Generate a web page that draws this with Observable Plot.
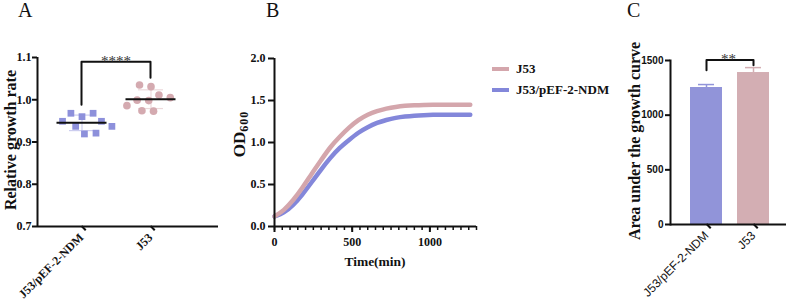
<!DOCTYPE html>
<html><head><meta charset="utf-8">
<script src="https://cdn.jsdelivr.net/npm/d3@7"></script>
<script src="https://cdn.jsdelivr.net/npm/@observablehq/plot@0.6"></script>
<style>
html,body{margin:0;padding:0;background:#fff;}
#root{position:relative;width:787px;height:308px;overflow:hidden;background:#fff;}
#root svg{position:absolute;top:0;}
.lbl{position:absolute;white-space:nowrap;font-family:"Liberation Serif","Times New Roman",serif;font-weight:bold;color:#111;line-height:1;}
.rot{transform:translate(-50%,-50%) rotate(-90deg);}
.hor{transform:translate(-50%,-50%);}
.panel{position:absolute;font-family:"Liberation Serif","Times New Roman",serif;font-size:20px;line-height:20px;color:#111;}
.legend{position:absolute;font-family:"Liberation Serif","Times New Roman",serif;font-weight:bold;font-size:13px;color:#111;}
.legend .row{display:flex;align-items:center;height:21px;}
.legend .sw{display:inline-block;width:17px;height:4px;margin-right:7px;}
</style></head><body><div id="root"></div>
<script>
// ---------- data ----------
const groups = ["J53/pEF-2-NDM", "J53"];
const colors = ["#8d90db", "#d4aab0"];

// Panel A: relative growth rate (individual replicates)
const rateNDM = [0.960, 0.968, 0.968, 0.949, 0.949, 0.937, 0.919, 0.921, 0.937];
const rateJ53 = [1.031, 1.035, 1.011, 0.998, 0.999, 1.005, 0.973, 0.974, 0.986];
const sigA = "****";
const bracketAGroups = ["J53/pEF-2-NDM", "J53/pEF-2-NDM", "J53", "J53"];
const bracketAValues = [0.988, 1.09, 1.09, 1.052];

// Panel B: growth curves (OD600 vs time in min)
const timeMin = [0, 60, 120, 180, 240, 300, 360, 420, 480, 540, 600, 660, 720, 780, 840, 900, 960, 1020, 1080, 1140, 1200, 1260];
const odNDM = [0.12, 0.16, 0.25, 0.38, 0.53, 0.68, 0.82, 0.94, 1.03, 1.12, 1.185, 1.235, 1.27, 1.295, 1.31, 1.32, 1.326, 1.33, 1.33, 1.33, 1.33, 1.33];
const odJ53 = [0.12, 0.19, 0.31, 0.46, 0.63, 0.79, 0.95, 1.07, 1.18, 1.27, 1.335, 1.375, 1.405, 1.425, 1.437, 1.444, 1.448, 1.45, 1.45, 1.45, 1.45, 1.45];
const seriesB = ["J53/pEF-2-NDM", "J53"];
const legendOrder = ["J53", "J53/pEF-2-NDM"];

// Panel C: area under the growth curve (mean, error)
const aucMean = [1253, 1390];
const aucErr = [27, 45];
const sigC = "**";
const bracketCGroups = ["J53/pEF-2-NDM", "J53/pEF-2-NDM", "J53", "J53"];
const bracketCValues = [1411, 1505, 1505, 1457];

// ---------- build ----------
const root = document.getElementById("root");
const serif = "Liberation Serif";

const ratesLong = [
  ...rateNDM.map(v => ({group: groups[0], value: v})),
  ...rateJ53.map(v => ({group: groups[1], value: v}))
];
const statsA = groups.map(g => {
  const v = ratesLong.filter(d => d.group === g).map(d => d.value);
  const m = d3.mean(v), s = d3.deviation(v);
  return {group: g, mean: m, lo: m - s, hi: m + s};
});
const bracketA = bracketAGroups.map((g, i) => ({group: g, y: bracketAValues[i]}));

// Panel A base (axes, bracket)
const xDomainA = [-0.6377, 1.9855];
const plotA = Plot.plot({
  width: 218, height: 308, marginLeft: 37, marginRight: 0, marginTop: 57, marginBottom: 82,
  style: {fontFamily: serif, fontWeight: "bold", fontSize: "12px", background: "transparent", color: "#111", overflow: "visible"},
  x: {type: "linear", domain: xDomainA, axis: null},
  y: {domain: [0.7, 1.1], axis: null},
  marks: [
    Plot.axisY({ticks: 4, tickFormat: ".1f", tickSize: 5, tickPadding: 1, strokeWidth: 2, label: null}),
    Plot.axisX({ticks: [0, 1], tickFormat: i => groups[i], tickSize: 6, tickPadding: 3, tickRotate: -45, rotate: -45, textAnchor: "end", lineAnchor: "middle", strokeWidth: 2, label: null}),
    Plot.ruleX([xDomainA[0]], {strokeWidth: 2}),
    Plot.ruleY([0.7], {strokeWidth: 2}),
    Plot.line(bracketA, {x: d => groups.indexOf(d.group), y: "y", strokeWidth: 2, stroke: "#111"}),
    Plot.text([sigA], {x: () => 0.5, y: () => bracketAValues[1], lineAnchor: "bottom", dy: 4, fontFamily: serif, fontWeight: "normal", fontSize: 15, fill: "#333"})
  ]
});
plotA.style.left = "0px";
root.appendChild(plotA);

// Panel A points overlay (faceted, dodged)
const plotA2 = Plot.plot({
  width: 218, height: 308, marginLeft: 46.5, marginRight: 33.5, marginTop: 57, marginBottom: 82,
  style: {background: "transparent", overflow: "visible"},
  fx: {domain: groups, padding: 0, axis: null},
  y: {domain: [0.7, 1.1], axis: null},
  color: {domain: groups, range: colors},
  symbol: {domain: groups, range: ["square", "circle"]},
  marks: [
    Plot.ruleX(statsA, {fx: "group", x: null, y1: "lo", y2: "hi", stroke: "group", strokeOpacity: 0.45, strokeWidth: 1.2}),
    Plot.tickY(statsA, {fx: "group", y: "hi", stroke: "group", strokeOpacity: 0.45, strokeWidth: 1.2, insetLeft: 22, insetRight: 22}),
    Plot.tickY(statsA, {fx: "group", y: "lo", stroke: "group", strokeOpacity: 0.45, strokeWidth: 1.2, insetLeft: 22, insetRight: 22}),
    Plot.dot(ratesLong, Plot.dodgeX({anchor: "middle", padding: 4}, {fx: "group", y: "value", r: 3.8, symbol: "group", fill: "group"})),
    Plot.tickY(statsA, {fx: "group", y: "mean", stroke: "#111", strokeWidth: 2, insetLeft: 9.5, insetRight: 9.5})
  ]
});
plotA2.style.left = "0px";
root.appendChild(plotA2);

// Panel B
const growthLong = [
  ...timeMin.map((t, i) => ({series: seriesB[0], time: t, od: odNDM[i]})),
  ...timeMin.map((t, i) => ({series: seriesB[1], time: t, od: odJ53[i]}))
];
const lineColors = ["#8387da", "#d4a6ac"];
const plotB = Plot.plot({
  width: 270, height: 308, marginLeft: 54, marginRight: 14, marginTop: 58, marginBottom: 82,
  style: {fontFamily: serif, fontWeight: "bold", fontSize: "12px", background: "transparent", color: "#111", overflow: "visible"},
  x: {domain: [0, 1300], axis: null},
  y: {domain: [0, 2], axis: null},
  color: {domain: seriesB, range: lineColors},
  marks: [
    Plot.axisX({ticks: d3.range(0, 1301, 50), tickFormat: () => "", tickSize: 4, strokeWidth: 1.5, label: null}),
    Plot.axisX({ticks: [0, 500, 1000], tickFormat: "d", tickSize: 6, tickPadding: 5, strokeWidth: 2, label: null}),
    Plot.axisY({ticks: [0, 0.5, 1, 1.5, 2], tickFormat: ".1f", tickSize: 6, tickPadding: 3, strokeWidth: 2, label: null}),
    Plot.line(growthLong, {x: "time", y: "od", z: "series", stroke: "series", strokeWidth: 4.5, curve: "basis"}),
    Plot.ruleX([0], {strokeWidth: 2}),
    Plot.ruleY([0], {strokeWidth: 2})
  ]
});
plotB.style.left = "220px";
root.appendChild(plotB);

// Panel C
const aucData = groups.map((g, i) => ({group: g, mean: aucMean[i], hi: aucMean[i] + aucErr[i]}));
const bracketC = bracketCGroups.map((g, i) => ({group: g, y: bracketCValues[i]}));
const plotC = Plot.plot({
  width: 187, height: 308, marginLeft: 70, marginRight: 1, marginTop: 60, marginBottom: 84,
  style: {fontFamily: "Liberation Sans", fontSize: "12px", background: "transparent", color: "#111", overflow: "visible"},
  x: {domain: groups, paddingInner: 0.31, paddingOuter: 0.37, align: 0.56, axis: null},
  y: {domain: [0, 1500], axis: null},
  color: {domain: groups, range: ["#9194d9", "#d3aeb3"]},
  marks: [
    Plot.barY(aucData, {x: "group", y: "mean", fill: "group"}),
    Plot.ruleX(aucData, {x: "group", y1: "mean", y2: "hi", stroke: "group", strokeWidth: 1.5}),
    Plot.tickY(aucData, {x: "group", y: "hi", stroke: "group", strokeWidth: 1.5, insetLeft: 8, insetRight: 8}),
    Plot.axisY({ticks: [0, 500, 1000, 1500], tickFormat: "d", tickSize: 5, tickPadding: 2, strokeWidth: 2, fontWeight: "bold", fontSize: 10, label: null}),
    Plot.axisX({tickSize: 6, tickPadding: 3, tickRotate: -45, rotate: -45, textAnchor: "end", lineAnchor: "middle", strokeWidth: 2, fontSize: 12, label: null}),
    Plot.ruleY([0], {strokeWidth: 2}),
    Plot.frame({anchor: "left", strokeWidth: 2}),
    Plot.line(bracketC, {x: "group", y: "y", strokeWidth: 2, stroke: "#111"}),
    Plot.text([sigC], {y: () => bracketCValues[1], lineAnchor: "bottom", dy: 4, fontFamily: serif, fontSize: 15, fill: "#333"})
  ]
});
plotC.style.left = "600px";
root.appendChild(plotC);

// Legend for B
const legend = document.createElement("div");
legend.className = "legend";
legend.style.left = "492px";
legend.style.top = "58.5px";
legendOrder.forEach(name => {
  const row = document.createElement("div");
  row.className = "row";
  const sw = document.createElement("span");
  sw.className = "sw";
  sw.style.background = lineColors[seriesB.indexOf(name)];
  const tx = document.createElement("span");
  tx.textContent = name;
  row.appendChild(sw); row.appendChild(tx);
  legend.appendChild(row);
});
root.appendChild(legend);

// Axis titles and panel letters
function addLabel(html, cx, cy, size, rotated) {
  const el = document.createElement("div");
  el.className = "lbl " + (rotated ? "rot" : "hor");
  el.style.left = cx + "px"; el.style.top = cy + "px"; el.style.fontSize = size + "px";
  el.innerHTML = html;
  root.appendChild(el);
}
addLabel("Relative growth rate", 10.5, 140, 16, true);
addLabel('OD<span style="font-size:12px;position:relative;top:3px;letter-spacing:1px">600</span>', 239, 134, 17, true);
addLabel("Time(min)", 375, 262, 13.5, false);
addLabel("Area under the growth curve", 635, 140.5, 16, true);

[["A", 18], ["B", 266], ["C", 627]].forEach(([t, x]) => {
  const el = document.createElement("div");
  el.className = "panel";
  el.style.left = x + "px"; el.style.top = "0px";
  el.textContent = t;
  root.appendChild(el);
});
</script>
</body></html>
